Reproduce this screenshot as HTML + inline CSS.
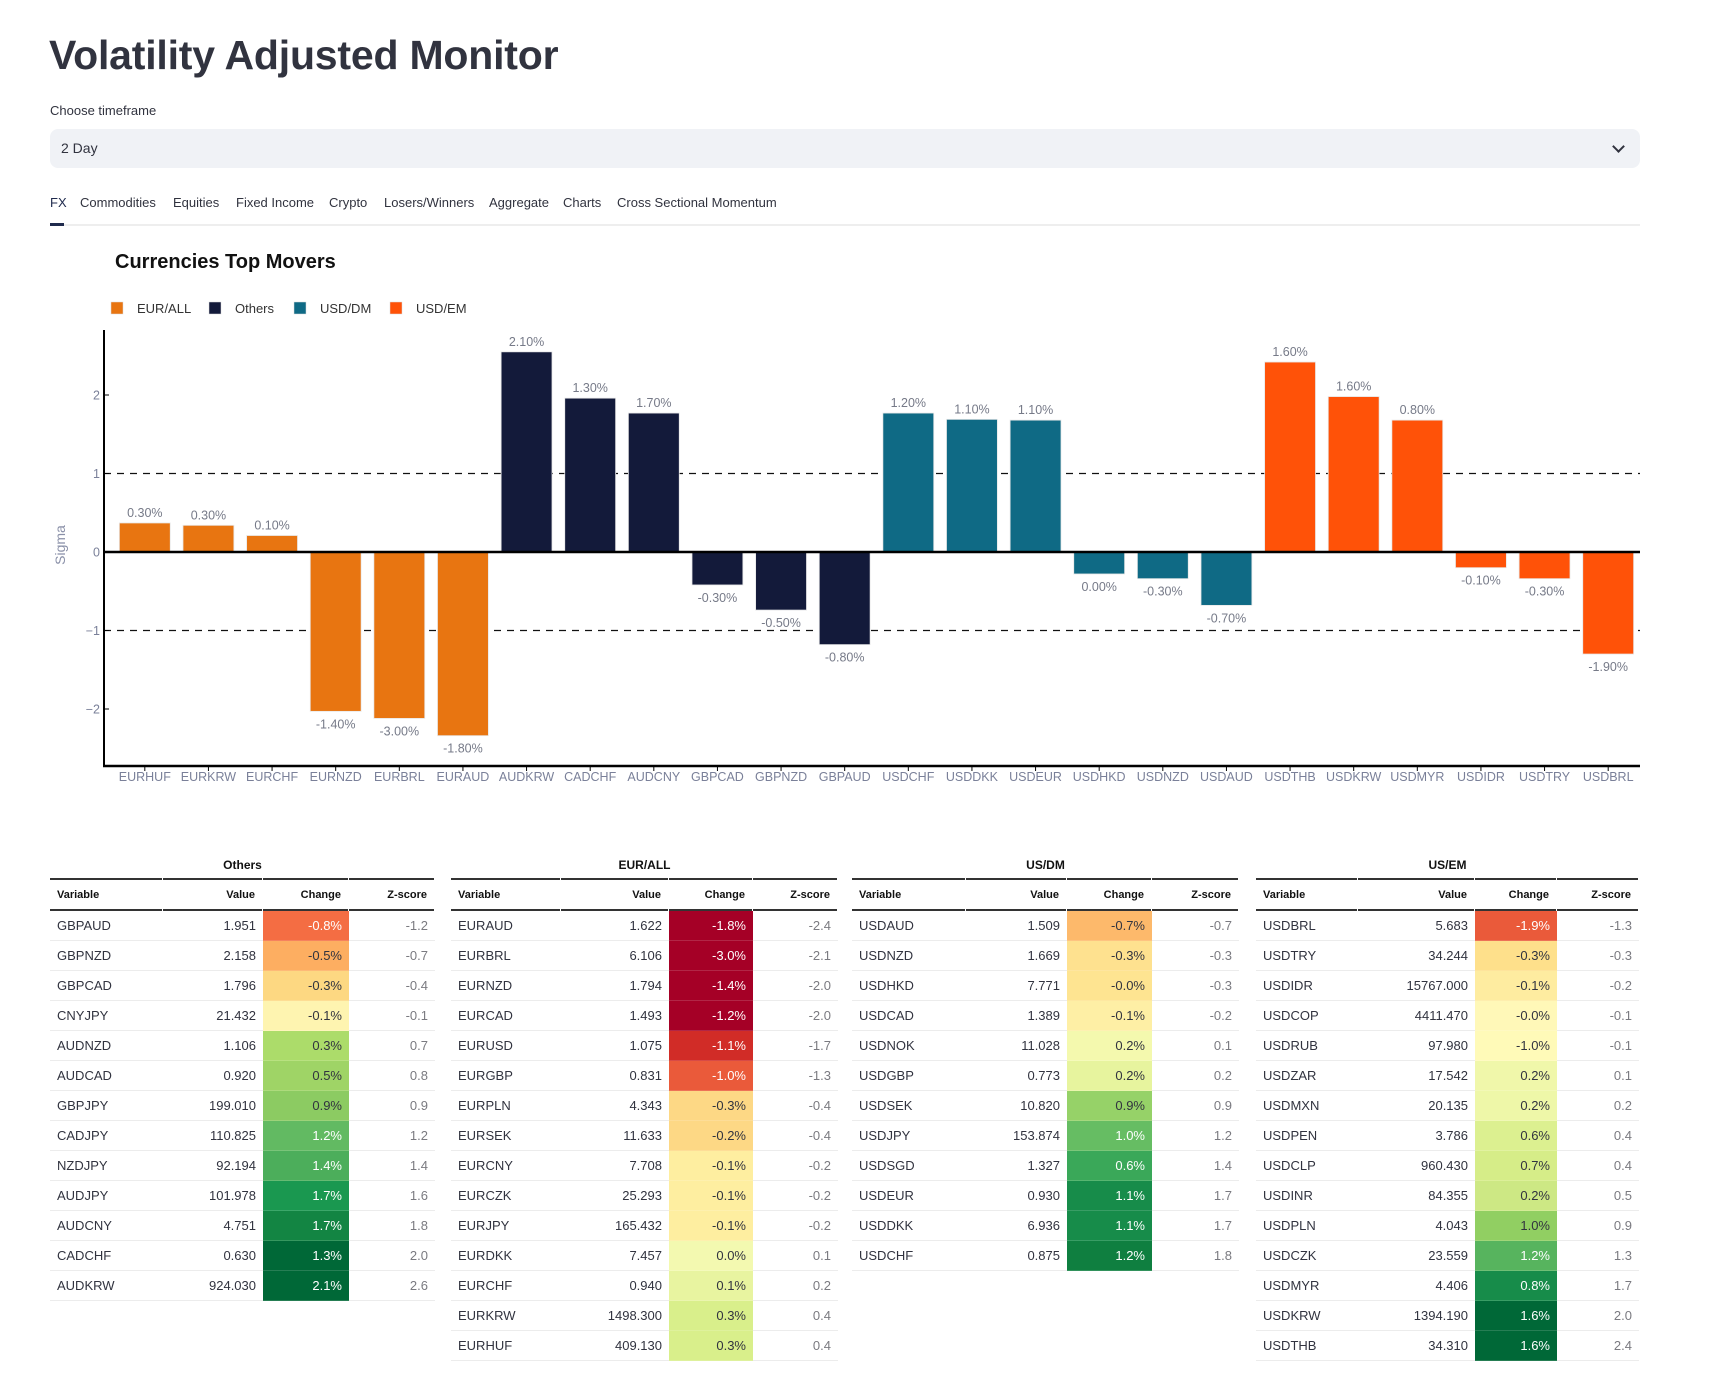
<!DOCTYPE html>
<html><head><meta charset="utf-8">
<style>
*{margin:0;padding:0;box-sizing:border-box}
body{width:1733px;height:1381px;background:#fff;font-family:"Liberation Sans",sans-serif;color:#31333f;position:relative;overflow:hidden}
.abs{position:absolute}
#title{left:49px;top:32px;font-size:41px;font-weight:bold;letter-spacing:-0.2px;color:#31333f;white-space:nowrap}
#lbl{left:50px;top:103px;font-size:13px;color:#31333f}
#select{left:50px;top:129px;width:1590px;height:39px;background:#f0f2f6;border-radius:8px}
#select span{position:absolute;left:11px;top:11px;font-size:14px}
#chev{position:absolute;right:17px;top:13px;width:9px;height:9px;border-right:2px solid #31333f;border-bottom:2px solid #31333f;transform:rotate(45deg)}
#tabs{left:50px;top:195px;font-size:13px;white-space:nowrap}
.tab{position:absolute;top:0}
#tabline{left:50px;top:224px;width:1590px;height:2px;background:#eee}
#tabact{left:50px;top:223px;width:14px;height:3px;background:#1f2a4d}
.tbl{position:absolute;top:850px}
.grp{height:28px;text-align:center;font-size:12px;font-weight:bold;line-height:30px;color:#111}
.hrow,.row{display:flex}
.hrow div{border-top:2px solid #333;border-bottom:2px solid #333;height:33px;line-height:30px;font-size:11px;font-weight:bold;color:#111;margin-right:1px}
.row div{height:30px;line-height:30px;font-size:13px;border-bottom:1px solid #ececec}
.l{text-align:left;padding-left:7px}
.r{text-align:right;padding-right:7px}
.z{color:#7a7a80}
</style></head><body>
<div id="title" class="abs">Volatility Adjusted Monitor</div>
<div id="lbl" class="abs">Choose timeframe</div>
<div id="select" class="abs"><span>2 Day</span><div id="chev"></div></div>
<div id="tabs" class="abs">
<span class="tab" style="left:0;color:#1f2a4d">FX</span>
<span class="tab" style="left:30px">Commodities</span>
<span class="tab" style="left:123px">Equities</span>
<span class="tab" style="left:186px">Fixed Income</span>
<span class="tab" style="left:279px">Crypto</span>
<span class="tab" style="left:334px">Losers/Winners</span>
<span class="tab" style="left:439px">Aggregate</span>
<span class="tab" style="left:513px">Charts</span>
<span class="tab" style="left:567px">Cross Sectional Momentum</span>
</div>
<div id="tabline" class="abs"></div>
<div id="tabact" class="abs"></div>

<svg id="chart" class="abs" style="left:0;top:0" width="1733" height="820">
<text x="115" y="268" font-size="20" font-weight="bold" fill="#111" font-family="Liberation Sans, sans-serif">Currencies Top Movers</text>
<g id="legend"></g>
<g id="grid"></g>
<g id="bars"></g>
<g id="axes"></g>
</svg>

<div id="tables"></div>

<script>
const categories=["EURHUF","EURKRW","EURCHF","EURNZD","EURBRL","EURAUD","AUDKRW","CADCHF","AUDCNY","GBPCAD","GBPNZD","GBPAUD","USDCHF","USDDKK","USDEUR","USDHKD","USDNZD","USDAUD","USDTHB","USDKRW","USDMYR","USDIDR","USDTRY","USDBRL"];
const groups=["EUR/ALL","EUR/ALL","EUR/ALL","EUR/ALL","EUR/ALL","EUR/ALL","Others","Others","Others","Others","Others","Others","USD/DM","USD/DM","USD/DM","USD/DM","USD/DM","USD/DM","USD/EM","USD/EM","USD/EM","USD/EM","USD/EM","USD/EM"];
const sigma=[0.37,0.34,0.21,-2.03,-2.12,-2.34,2.55,1.96,1.77,-0.42,-0.74,-1.18,1.77,1.69,1.68,-0.28,-0.34,-0.68,2.42,1.98,1.68,-0.2,-0.34,-1.3];
const pctLabels=["0.30%","0.30%","0.10%","-1.40%","-3.00%","-1.80%","2.10%","1.30%","1.70%","-0.30%","-0.50%","-0.80%","1.20%","1.10%","1.10%","0.00%","-0.30%","-0.70%","1.60%","1.60%","0.80%","-0.10%","-0.30%","-1.90%"];
const legendNames=["EUR/ALL","Others","USD/DM","USD/EM"];
const legendColors=["#e87511","#131a3a","#0f6a85","#ff5208"];
const yTicks=[-2,-1,0,1,2];
const refLines=[-1,1];

const NS="http://www.w3.org/2000/svg";
const AX=104,X0=113,X1=1640,YTOP=330,YBOT=766,ZERO=552,UNIT=78.5;
const band=(X1-X0)/categories.length;
function xC(i){return X0+band*(i+0.5);}
function yS(v){return ZERO-v*UNIT;}
function mk(tag,attrs,parent){const e=document.createElementNS(NS,tag);for(const k in attrs)e.setAttribute(k,attrs[k]);parent.appendChild(e);return e;}
const F="Liberation Sans, sans-serif";

const lg=document.getElementById('legend');
const legX=[111,209,294,390];
legendNames.forEach((n,i)=>{
  const r=mk('rect',{x:legX[i],y:302,width:12,height:12,fill:legendColors[i],stroke:"#ddd","stroke-width":0.5},lg);
  
  
  const t=mk('text',{x:legX[i]+26,y:313,"font-size":13,fill:"#333","font-family":F},lg);
  t.textContent=n;
  
  
});

const gr=document.getElementById('grid');
refLines.forEach(v=>{
  const l=mk('line',{x1:AX,x2:X1,y1:yS(v),y2:yS(v),stroke:"#111","stroke-width":1.3,"stroke-dasharray":"7,6"},gr);
  
  
});

const bg=document.getElementById('bars');
categories.forEach((c,i)=>{
  const v=sigma[i];const col=legendColors[legendNames.indexOf(groups[i])];
  const w=band*0.8;const y=Math.min(yS(v),ZERO);const h=Math.abs(yS(v)-ZERO);
  const r=mk('rect',{x:xC(i)-w/2,y:y,width:w,height:h,fill:col,stroke:"#e8e8e8","stroke-width":0.8},bg);
  
  
  const t=mk('text',{x:xC(i),y:v>=0?yS(v)-6:yS(v)+17,"font-size":12.5,fill:"#767a88","text-anchor":"middle","font-family":F},bg);
  t.textContent=pctLabels[i];
  
  
});

const ax=document.getElementById('axes');
const zl=mk('line',{x1:AX,x2:X1,y1:ZERO,y2:ZERO,stroke:"#000","stroke-width":2.5},ax);


const ya=mk('line',{x1:AX,x2:AX,y1:YTOP,y2:YBOT+1,stroke:"#000","stroke-width":2},ax);


const xa=mk('line',{x1:AX-1,x2:X1,y1:YBOT,y2:YBOT,stroke:"#000","stroke-width":2.5},ax);


yTicks.forEach(v=>{
  mk('line',{x1:AX,x2:AX+5,y1:yS(v),y2:yS(v),stroke:"#000","stroke-width":1},ax);
  const t=mk('text',{x:100,y:yS(v)+4.5,"font-size":12.5,fill:"#7a8099","text-anchor":"end","font-family":F},ax);
  t.textContent=v<0?'\u2212'+Math.abs(v):String(v);
  
  
});
categories.forEach((c,i)=>{
  mk('line',{x1:xC(i),x2:xC(i),y1:YBOT,y2:YBOT+5,stroke:"#000","stroke-width":1},ax);
  const t=mk('text',{x:xC(i),y:790,"font-size":12.5,fill:"#7a8099","text-anchor":"middle","font-family":F,transform:"translate(0,-9)"},ax);
  t.textContent=c;
  
  
});
const yt=mk('text',{x:0,y:0,"font-size":14,fill:"#8a90a8","text-anchor":"middle","font-family":F,transform:"translate(65,545) rotate(-90)"},ax);
yt.textContent="Sigma";



/* tables */
const tableTitles=["Others","EUR/ALL","US/DM","US/EM"];
const tableLefts=[50,451,852,1256];
const colWidths=[[113,100,86,86],[110,108,84,85],[114,101,85,87],[102,117,82,82]];
const tVars=[
["GBPAUD","GBPNZD","GBPCAD","CNYJPY","AUDNZD","AUDCAD","GBPJPY","CADJPY","NZDJPY","AUDJPY","AUDCNY","CADCHF","AUDKRW"],
["EURAUD","EURBRL","EURNZD","EURCAD","EURUSD","EURGBP","EURPLN","EURSEK","EURCNY","EURCZK","EURJPY","EURDKK","EURCHF","EURKRW","EURHUF"],
["USDAUD","USDNZD","USDHKD","USDCAD","USDNOK","USDGBP","USDSEK","USDJPY","USDSGD","USDEUR","USDDKK","USDCHF"],
["USDBRL","USDTRY","USDIDR","USDCOP","USDRUB","USDZAR","USDMXN","USDPEN","USDCLP","USDINR","USDPLN","USDCZK","USDMYR","USDKRW","USDTHB"]];
const tVals=[
["1.951","2.158","1.796","21.432","1.106","0.920","199.010","110.825","92.194","101.978","4.751","0.630","924.030"],
["1.622","6.106","1.794","1.493","1.075","0.831","4.343","11.633","7.708","25.293","165.432","7.457","0.940","1498.300","409.130"],
["1.509","1.669","7.771","1.389","11.028","0.773","10.820","153.874","1.327","0.930","6.936","0.875"],
["5.683","34.244","15767.000","4411.470","97.980","17.542","20.135","3.786","960.430","84.355","4.043","23.559","4.406","1394.190","34.310"]];
const tChg=[
["-0.8%","-0.5%","-0.3%","-0.1%","0.3%","0.5%","0.9%","1.2%","1.4%","1.7%","1.7%","1.3%","2.1%"],
["-1.8%","-3.0%","-1.4%","-1.2%","-1.1%","-1.0%","-0.3%","-0.2%","-0.1%","-0.1%","-0.1%","0.0%","0.1%","0.3%","0.3%"],
["-0.7%","-0.3%","-0.0%","-0.1%","0.2%","0.2%","0.9%","1.0%","0.6%","1.1%","1.1%","1.2%"],
["-1.9%","-0.3%","-0.1%","-0.0%","-1.0%","0.2%","0.2%","0.6%","0.7%","0.2%","1.0%","1.2%","0.8%","1.6%","1.6%"]];
const tZ=[
["-1.2","-0.7","-0.4","-0.1","0.7","0.8","0.9","1.2","1.4","1.6","1.8","2.0","2.6"],
["-2.4","-2.1","-2.0","-2.0","-1.7","-1.3","-0.4","-0.4","-0.2","-0.2","-0.2","0.1","0.2","0.4","0.4"],
["-0.7","-0.3","-0.3","-0.2","0.1","0.2","0.9","1.2","1.4","1.7","1.7","1.8"],
["-1.3","-0.3","-0.2","-0.1","-0.1","0.1","0.2","0.4","0.4","0.5","0.9","1.3","1.7","2.0","2.4"]];
const tCol=[
["#f46d43","#fdae61","#fdd882","#fef4b0","#acdc6a","#9fd466","#8ccb62","#62ba62","#4cae5b","#1a9850","#138543","#006837","#006837"],
["#a50026","#a50026","#a50026","#a50026","#d12c27","#ea5a3a","#fdd885","#fdd885","#feeea0","#feeea0","#feeea0","#f3f9b0","#e8f4a0","#d9ef8b","#d9ef8b"],
["#fdb96b","#fee18f","#fee491","#feefa5","#f4f9ae","#e7f49e","#96d268","#66bd63","#3aa859","#178c4a","#178c4a","#0f7f40"],
["#ea5a3a","#fee08b","#feeca0","#fff8b8","#fffab8","#f0f7aa","#eef7a8","#dcf090","#d6ed88","#cde884","#91cf62","#57b45e","#178c4a","#006837","#006837"]];
const whiteTxt=c=>["#f46d43","#62ba62","#4cae5b","#1a9850","#138543","#006837","#a50026","#d12c27","#ea5a3a","#66bd63","#3aa859","#178c4a","#0f7f40","#57b45e"].includes(c);
const host=document.getElementById('tables');
tableTitles.forEach((ttl,ti)=>{
  const cw=colWidths[ti];
  const tb=document.createElement('div');
  tb.className='tbl';tb.style.left=tableLefts[ti]+'px';
  
  
  const g=document.createElement('div');g.className='grp';g.textContent=ttl;
  
  
  tb.appendChild(g);
  const hr=document.createElement('div');hr.className='hrow';
  ["Variable","Value","Change","Z-score"].forEach((h,k)=>{
    const d=document.createElement('div');d.textContent=h;d.className=k==0?'l':'r';
    d.style.width=(cw[k]-1)+'px';
    
    
    hr.appendChild(d);
  });
  tb.appendChild(hr);
  tVars[ti].forEach((v,ri)=>{
    const row=document.createElement('div');row.className='row';
    
    
    const cells=[v,tVals[ti][ri],tChg[ti][ri],tZ[ti][ri]];
    cells.forEach((c,k)=>{
      const d=document.createElement('div');d.textContent=c;d.className=k==0?'l':'r';
      d.style.width=cw[k]+'px';
      if(k==2){d.style.background=tCol[ti][ri];d.style.color=whiteTxt(tCol[ti][ri])?'#fff':'#31333f';d.style.borderBottomColor='rgba(255,255,255,0.15)';}
      if(k==3)d.classList.add('z');
      
      
      row.appendChild(d);
    });
    tb.appendChild(row);
  });
  host.appendChild(tb);
});
</script>
</body></html>
